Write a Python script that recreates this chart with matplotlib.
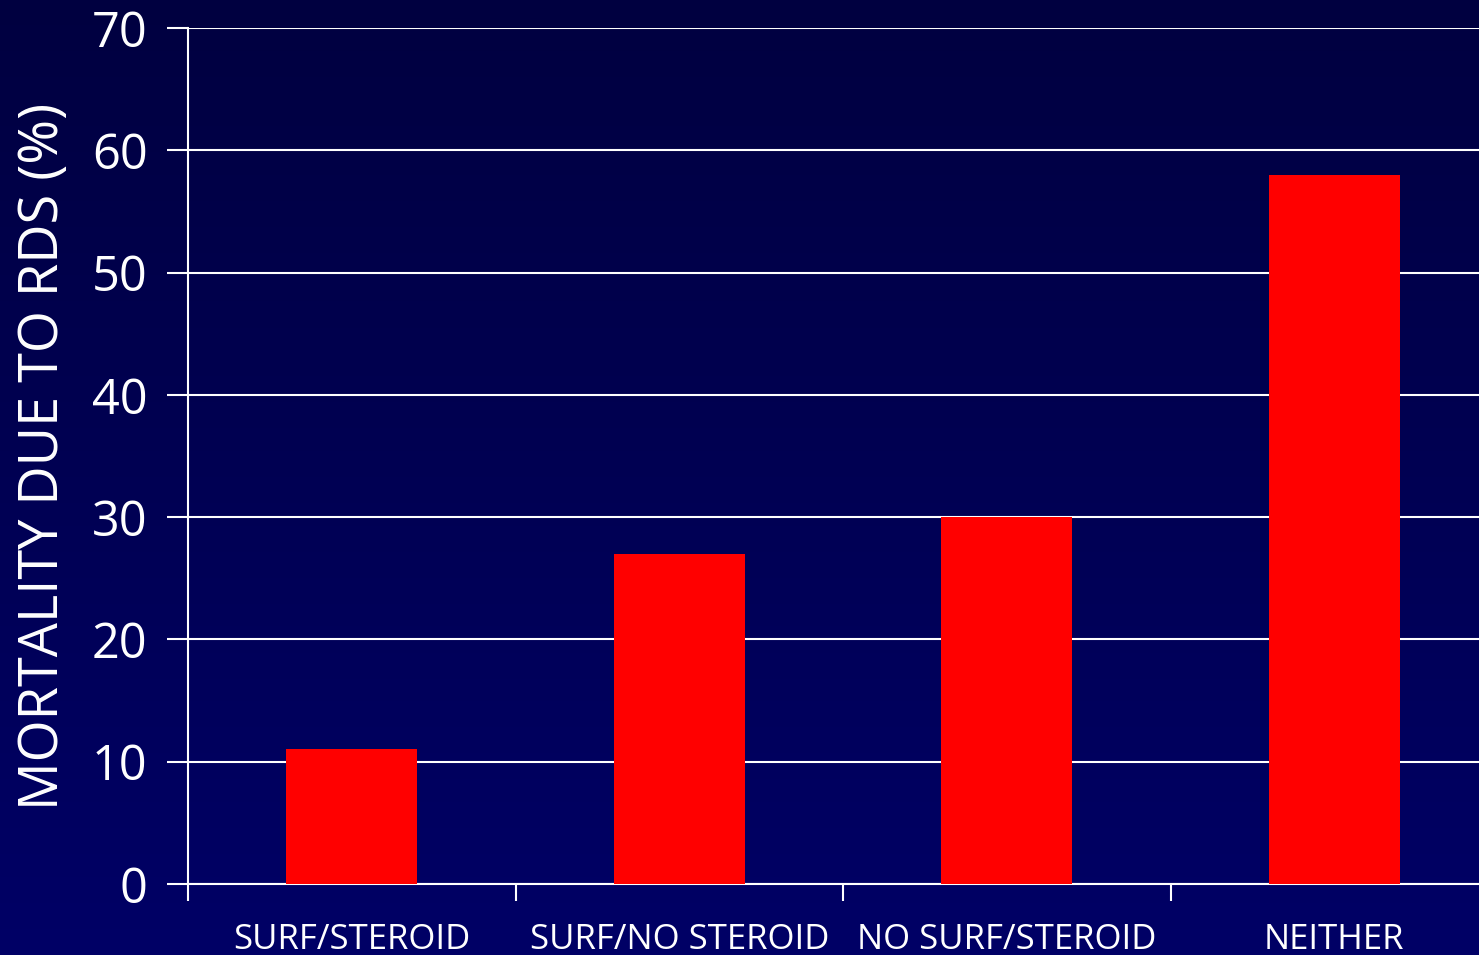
import numpy as np
import matplotlib
matplotlib.use("Agg")
import matplotlib.pyplot as plt
from matplotlib.colors import LinearSegmentedColormap

categories = ["SURF/STEROID", "SURF/NO STEROID", "NO SURF/STEROID", "NEITHER"]
mortality = [11, 27, 30, 58]
y_ticks = [0, 10, 20, 30, 40, 50, 60, 70]
y_label = "MORTALITY DUE TO RDS (%)"

plt.rcParams["font.family"] = ["Open Sans", "DejaVu Sans"]

fig = plt.figure(figsize=(14.79, 9.55), dpi=100)

# vertical navy gradient behind everything
bg = fig.add_axes([0, 0, 1, 1], zorder=0)
grad = np.linspace(0, 1, 256).reshape(-1, 1)
cmap = LinearSegmentedColormap.from_list("navy", ["#000040", "#000066"])
bg.imshow(grad, aspect="auto", cmap=cmap, extent=[0, 1, 0, 1], origin="upper")
bg.set_axis_off()

W, H = 1479, 955
left, right = 188 / W, 1498 / W
bottom, top = 1 - 884 / H, 1 - 28 / H
ax = fig.add_axes([left, bottom, right - left, top - bottom], zorder=1)
ax.patch.set_alpha(0)

x = np.arange(len(categories))
ax.bar(x, mortality, width=0.40, color="#ff0000", zorder=3)

ax.set_xlim(-0.5, len(categories) - 0.5)
ax.set_ylim(0, 70)
ax.set_yticks(y_ticks)
ax.yaxis.grid(True, color="white", linewidth=1.5, zorder=1)
ax.set_axisbelow(True)

# category boundaries get the tick marks, names sit centred below each bar
ax.set_xticks(np.arange(len(categories)) - 0.5)
ax.set_xticklabels([])
ax.set_xticks(x, minor=True)
ax.set_xticklabels(categories, minor=True, fontsize=25, color="white")
ax.tick_params(axis="x", which="minor", length=0, pad=28)
ax.tick_params(axis="x", which="major", direction="out", length=12, width=1.5, color="white")
ax.tick_params(axis="y", direction="out", length=15, width=1.5, color="white",
               labelsize=35, labelcolor="white", pad=14)

for side in ["top", "right"]:
    ax.spines[side].set_visible(False)
for side in ["left", "bottom"]:
    ax.spines[side].set_color("white")
    ax.spines[side].set_linewidth(1.5)

fig.text(44 / W, 1 - 456 / H, y_label, rotation=90, ha="center", va="center",
         fontsize=39, color="white")

fig.savefig("out.png", dpi=100)
